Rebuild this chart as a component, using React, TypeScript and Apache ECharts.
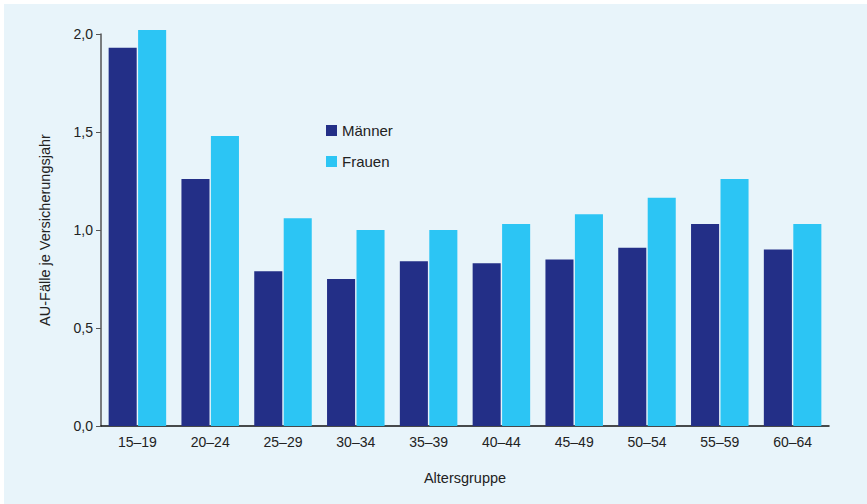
import React, { useEffect, useRef } from "react";
import * as echarts from "echarts";

const categories = ["15–19", "20–24", "25–29", "30–34", "35–39", "40–44", "45–49", "50–54", "55–59", "60–64"];
const maenner = [1.93, 1.26, 0.79, 0.75, 0.84, 0.83, 0.85, 0.91, 1.03, 0.9];
const frauen = [2.02, 1.48, 1.06, 1.0, 1.0, 1.03, 1.08, 1.165, 1.26, 1.03];
const yTicks = [0, 0.5, 1.0, 1.5, 2.0];

export default function App() {
  const ref = useRef<HTMLDivElement>(null);
  useEffect(() => {
    if (!ref.current) return;
    const chart = echarts.init(ref.current, null, { renderer: "svg" });
    const font = "Liberation Sans, Arial, sans-serif";
    chart.setOption({
      animation: false,
      backgroundColor: "#e8f4fa",
      textStyle: { fontFamily: font },
      grid: { left: 97, right: 38, top: 30, bottom: 78 },
      legend: {
        orient: "vertical",
        left: 317,
        top: 114,
        itemWidth: 11,
        itemHeight: 11,
        itemGap: 16,
        icon: "rect",
        textStyle: { fontSize: 15, color: "#222", fontFamily: font },
        data: ["Männer", "Frauen"],
      },
      xAxis: {
        type: "category",
        data: categories,
        name: "Altersgruppe",
        nameLocation: "middle",
        nameGap: 44,
        nameTextStyle: { fontSize: 14.5, color: "#222" },
        axisLine: { lineStyle: { color: "#111", width: 1.5 } },
        axisTick: { length: 6, lineStyle: { color: "#444" } },
        axisLabel: { fontSize: 14, color: "#222", margin: 9 },
      },
      yAxis: {
        type: "value",
        min: yTicks[0],
        max: yTicks[yTicks.length - 1],
        interval: 0.5,
        name: "AU-Fälle je Versicherungsjahr",
        nameLocation: "middle",
        nameGap: 49,
        nameTextStyle: { fontSize: 14.5, color: "#222" },
        axisLine: { show: true, lineStyle: { color: "#555", width: 1.5 } },
        axisTick: { show: true, length: 5, lineStyle: { color: "#555" } },
        axisLabel: {
          fontSize: 14,
          color: "#222",
          margin: 8,
          formatter: (v: number) => v.toFixed(1).replace(".", ","),
        },
        splitLine: { show: false },
      },
      series: [
        {
          name: "Männer",
          type: "bar",
          data: maenner,
          clip: false,
          barGap: "5%",
          barCategoryGap: "21%",
          itemStyle: { color: "#232f87" },
        },
        {
          name: "Frauen",
          type: "bar",
          data: frauen,
          clip: false,
          barGap: "5%",
          barCategoryGap: "21%",
          itemStyle: { color: "#2cc5f4" },
        },
      ],
    });
    return () => chart.dispose();
  }, []);
  return (
    <div style={{ position: "fixed", left: 0, top: 0, width: 867, height: 504, background: "#fff" }}>
      <div ref={ref} style={{ position: "absolute", left: 4, top: 4, width: 863, height: 500 }} />
    </div>
  );
}
